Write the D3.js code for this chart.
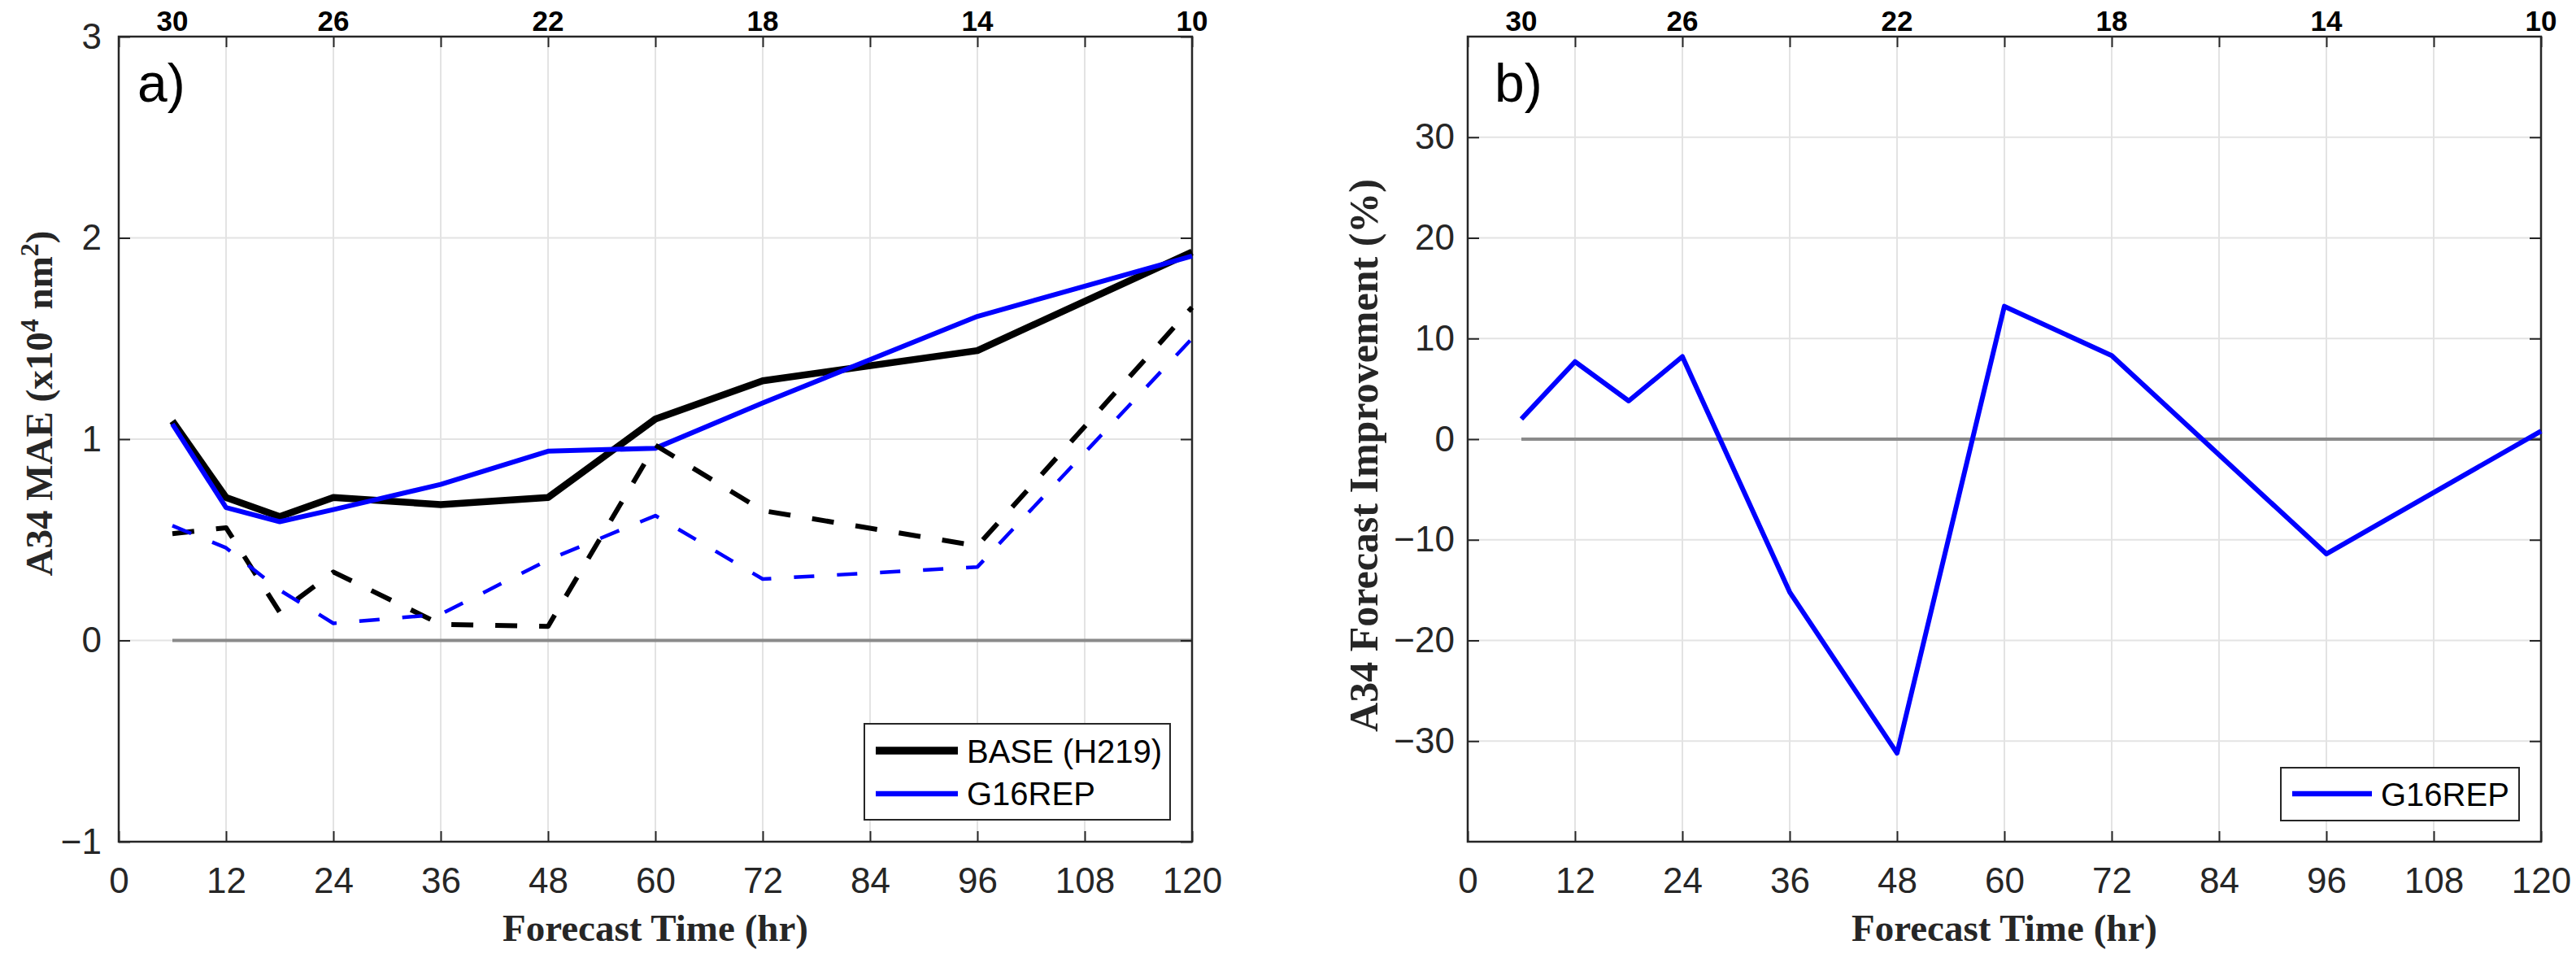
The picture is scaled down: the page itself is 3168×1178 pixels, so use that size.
<!DOCTYPE html>
<html>
<head>
<meta charset="utf-8">
<script src="https://cdn.jsdelivr.net/npm/d3@7/dist/d3.min.js"></script>
<style>
  html, body { margin: 0; padding: 0; background: #fff; }
  svg { display: block; }
</style>
</head>
<body>
<script>
// ---------------- data ----------------
const hours       = [6, 12, 18, 24, 36, 48, 60, 72, 96, 120];
const baseMAE     = [1.09, 0.71, 0.615, 0.71, 0.675, 0.71, 1.10, 1.29, 1.44, 1.93];
const g16MAE      = [1.075, 0.66, 0.59, 0.65, 0.775, 0.94, 0.955, 1.18, 1.61, 1.91];
const baseDashed  = [0.53, 0.56, 0.14, 0.34, 0.08, 0.07, 0.97, 0.645, 0.47, 1.655];
const g16Dashed   = [0.57, 0.46, 0.25, 0.085, 0.13, 0.40, 0.62, 0.305, 0.365, 1.50];
const improvement = [2.0, 7.7, 3.8, 8.2, -15.2, -31.2, 13.2, 8.3, -11.4, 0.8];
const zeroLine    = [6, 120];

const xTicks      = [0, 12, 24, 36, 48, 60, 72, 84, 96, 108, 120];
const yTicksA     = [-1, 0, 1, 2, 3];
const yTicksB     = [-30, -20, -10, 0, 10, 20, 30];
const topHours    = [6, 24, 48, 72, 96, 120];
const topLabels   = ["30", "26", "22", "18", "14", "10"];

const legendA     = ["BASE (H219)", "G16REP"];
const legendB     = ["G16REP"];

// ---------------- layout ----------------
const W = 3168, H = 1178;
const svg = d3.select("body").append("svg").attr("width", W).attr("height", H)
  .style("background", "#fff");

const SANS = "'Liberation Sans', Arial, Helvetica, sans-serif";
const SERIF = "'Liberation Serif', 'Times New Roman', Times, serif";
const AXC = "#262626";
const fmt = d3.format("d");

function panel(opts) {
  const g = svg.append("g");
  const x = d3.scaleLinear().domain([0, 120]).range([opts.left, opts.right]);
  const y = d3.scaleLinear().domain(opts.ydom).range([opts.bottom, opts.top]);

  // grid
  g.append("g").selectAll("line").data(xTicks.slice(1, -1)).join("line")
    .attr("x1", d => x(d)).attr("x2", d => x(d))
    .attr("y1", opts.top).attr("y2", opts.bottom)
    .attr("stroke", "#e3e3e3").attr("stroke-width", 2);
  g.append("g").selectAll("line").data(opts.yticks).join("line")
    .attr("x1", opts.left).attr("x2", opts.right)
    .attr("y1", d => y(d)).attr("y2", d => y(d))
    .attr("stroke", "#e3e3e3").attr("stroke-width", 2);

  // zero line
  g.append("line")
    .attr("x1", x(zeroLine[0])).attr("x2", x(zeroLine[1]))
    .attr("y1", y(0)).attr("y2", y(0))
    .attr("stroke", "#8a8a8a").attr("stroke-width", 4);

  // axes
  const axB = d3.axisBottom(x).tickValues(xTicks).tickFormat(fmt).tickSize(-13).tickSizeOuter(0).tickPadding(32);
  const axT = d3.axisTop(x).tickValues(xTicks).tickSize(-13).tickSizeOuter(0).tickFormat("");
  const axL = d3.axisLeft(y).tickValues(opts.yticks).tickFormat(fmt).tickSize(-14).tickSizeOuter(0).tickPadding(opts.ypad);
  const axR = d3.axisRight(y).tickValues(opts.yticks).tickSize(-14).tickSizeOuter(0).tickFormat("");

  const gb = g.append("g").attr("transform", `translate(0,${opts.bottom})`).call(axB);
  const gt = g.append("g").attr("transform", `translate(0,${opts.top})`).call(axT);
  const gl = g.append("g").attr("transform", `translate(${opts.left},0)`).call(axL);
  const gr = g.append("g").attr("transform", `translate(${opts.right},0)`).call(axR);
  [gb, gt, gl, gr].forEach(a => {
    a.select(".domain").remove();
    a.selectAll(".tick line").attr("stroke", AXC).attr("stroke-width", 2);
    a.selectAll(".tick text").attr("fill", AXC).style("font-family", SANS).style("font-size", "44px");
  });

  // box
  g.append("rect").attr("x", opts.left).attr("y", opts.top)
    .attr("width", opts.right - opts.left).attr("height", opts.bottom - opts.top)
    .attr("fill", "none").attr("stroke", AXC).attr("stroke-width", 2.5);

  // top labels
  g.append("g").selectAll("text").data(topHours).join("text")
    .attr("x", d => x(d)).attr("y", opts.top - 7)
    .attr("text-anchor", "middle")
    .style("font-family", SANS).style("font-size", "35px").style("font-weight", "bold")
    .attr("fill", "#000")
    .text((d, i) => topLabels[i]);

  // panel letter
  g.append("text").attr("x", opts.letterX).attr("y", 125)
    .style("font-family", SANS).style("font-size", "66px").attr("fill", "#000")
    .text(opts.letter);

  // x title
  g.append("text").attr("x", (opts.left + opts.right) / 2).attr("y", 1157)
    .attr("text-anchor", "middle")
    .style("font-family", SERIF).style("font-size", "47px").style("font-weight", "bold")
    .attr("fill", "#262626")
    .text("Forecast Time (hr)");

  return { g, x, y };
}

const A = panel({ left: 146, right: 1466, top: 45, bottom: 1035, ydom: [-1, 3], yticks: yTicksA,
                  ypad: 21, letter: "a)", letterX: 169 });
const B = panel({ left: 1805, right: 3125, top: 45, bottom: 1035, ydom: [-40, 40], yticks: yTicksB,
                  ypad: 16, letter: "b)", letterX: 1838 });

// y titles
const ytA = svg.append("text")
  .attr("transform", "translate(64,496) rotate(-90)")
  .attr("text-anchor", "middle")
  .style("font-family", SERIF).style("font-size", "47px").style("font-weight", "bold")
  .attr("fill", "#262626");
ytA.append("tspan").text("A34 MAE (x10");
ytA.append("tspan").attr("dy", -17).style("font-size", "32px").text("4");
ytA.append("tspan").attr("dy", 17).text(" nm");
ytA.append("tspan").attr("dy", -17).style("font-size", "32px").text("2");
ytA.append("tspan").attr("dy", 17).text(")");

svg.append("text")
  .attr("transform", "translate(1694,560) rotate(-90)")
  .attr("text-anchor", "middle")
  .style("font-family", SERIF).style("font-size", "50px").style("font-weight", "bold")
  .attr("fill", "#262626")
  .text("A34 Forecast Improvement (%)");

// ---------------- lines ----------------
function drawLine(P, vals, color, width, dash) {
  const data = hours.map((h, i) => ({ h, v: vals[i] }));
  const line = d3.line().x(d => P.x(d.h)).y(d => P.y(d.v));
  P.g.append("path").datum(data).attr("d", line)
    .attr("fill", "none").attr("stroke", color).attr("stroke-width", width)
    .attr("stroke-linejoin", "round")
    .attr("stroke-dasharray", dash || null);
}

drawLine(A, baseMAE, "#000000", 8.5);
drawLine(A, g16MAE, "#0000ff", 6);
drawLine(A, baseDashed, "#000000", 6, "27,27");
drawLine(A, g16Dashed, "#0000ff", 4.5, "25,28");

drawLine(B, improvement, "#0000ff", 6);

// ---------------- legends ----------------
function legend(x0, y0, w, h, entries) {
  const g = svg.append("g");
  g.append("rect").attr("x", x0).attr("y", y0).attr("width", w).attr("height", h)
    .attr("fill", "#fff").attr("stroke", AXC).attr("stroke-width", 2);
  entries.forEach(e => {
    g.append("line").attr("x1", e.lx1).attr("x2", e.lx2).attr("y1", e.ly).attr("y2", e.ly)
      .attr("stroke", e.color).attr("stroke-width", e.width);
    g.append("text").attr("x", e.tx).attr("y", e.ty)
      .style("font-family", SANS).style("font-size", "40px").attr("fill", "#000")
      .text(e.label);
  });
}

legend(1063, 890, 376, 118, [
  { label: legendA[0], color: "#000", width: 9.5, lx1: 1077, lx2: 1178, ly: 923, tx: 1189, ty: 938 },
  { label: legendA[1], color: "#0000ff", width: 6.5, lx1: 1077, lx2: 1178, ly: 976, tx: 1189, ty: 990 }
]);
legend(2805, 944, 293, 65, [
  { label: legendB[0], color: "#0000ff", width: 6.5, lx1: 2819, lx2: 2917, ly: 976, tx: 2928, ty: 991 }
]);
</script>
</body>
</html>
